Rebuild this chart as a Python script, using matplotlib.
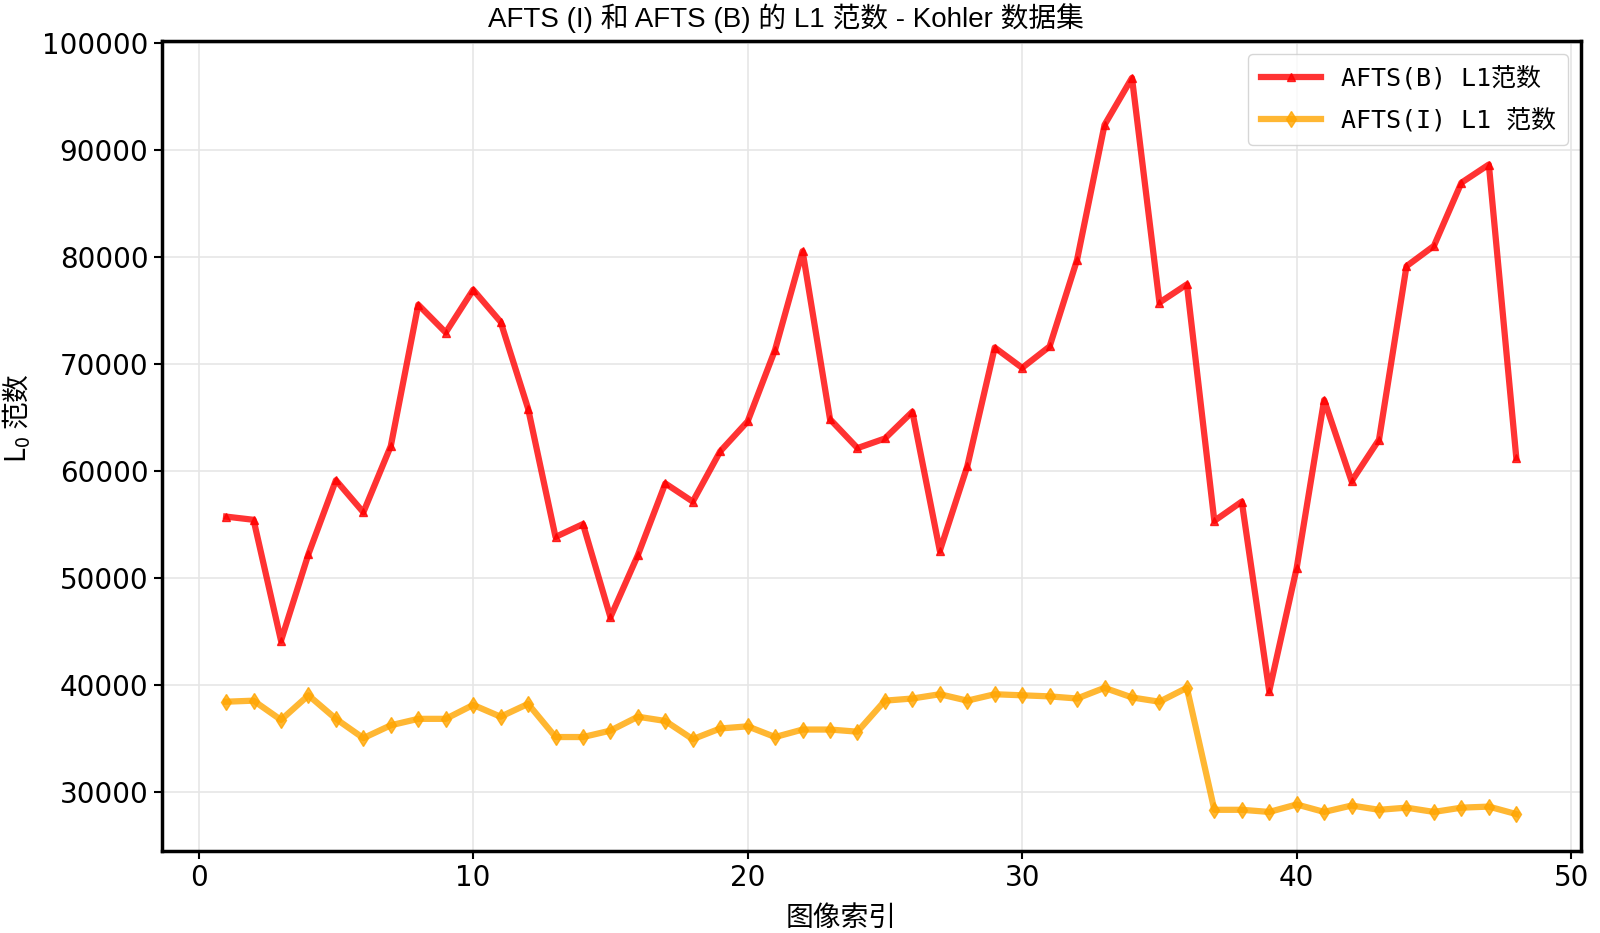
import numpy as np
import matplotlib
matplotlib.use('Agg')
import matplotlib.pyplot as plt

image_idx = list(range(1, 49))

aftsb_l1 = [55.7, 55.4, 44.1, 52.2, 59.1, 56.1, 62.3, 75.5, 72.9, 76.9,
            73.9, 65.8, 53.8, 55.0, 46.3, 52.1, 58.8, 57.1, 61.8, 64.6,
            71.3, 80.5, 64.8, 62.1, 63.0, 65.5, 52.5, 60.4, 71.5, 69.6,
            71.6, 79.7, 92.3, 96.7, 75.7, 77.4, 55.3, 57.1, 39.4, 50.9,
            66.6, 59.0, 62.9, 79.1, 81.0, 86.9, 88.6, 61.2]

aftsi_l1 = [38.4, 38.5, 36.7, 39.0, 36.8, 35.0, 36.2, 36.8, 36.8, 38.1,
            37.0, 38.2, 35.1, 35.1, 35.7, 37.0, 36.6, 34.9, 35.9, 36.1,
            35.1, 35.8, 35.8, 35.6, 38.5, 38.7, 39.1, 38.5, 39.1, 39.0,
            38.9, 38.7, 39.7, 38.8, 38.4, 39.7, 28.3, 28.3, 28.1, 28.8,
            28.1, 28.7, 28.3, 28.5, 28.1, 28.5, 28.6, 27.9]

aftsb_l1 = np.array(aftsb_l1) * 1000
aftsi_l1 = np.array(aftsi_l1) * 1000

cjk = ['Liberation Sans', 'Noto Sans CJK SC']
mono_cjk = ['DejaVu Sans Mono', 'Noto Sans CJK SC']


def main():
    # mathtext in CJK font so that "L$_0$ 范数" renders with the Chinese part
    plt.rcParams['mathtext.fontset'] = 'custom'
    plt.rcParams['mathtext.rm'] = 'Noto Sans CJK SC'
    plt.rcParams['mathtext.it'] = 'Noto Sans CJK SC'

    fig = plt.figure(figsize=(16, 9.33), dpi=100)
    ax = fig.add_axes([0.101, 0.088, 0.887, 0.868])

    ax.plot(image_idx, aftsb_l1, color='red', alpha=0.8, linewidth=4.5,
            marker='^', markersize=6, label='AFTS(B) L1范数')
    ax.plot(image_idx, aftsi_l1, color='orange', alpha=0.8, linewidth=4.5,
            marker='d', markersize=8, label='AFTS(I) L1 范数')

    ax.set_title('AFTS (I) 和 AFTS (B) 的 L1 范数 - Kohler 数据集',
                 family=cjk, fontsize=20, pad=10, x=0.44)
    ax.set_xlabel('图像索引', family=['Noto Sans CJK SC'], fontsize=20,
                  labelpad=8, x=0.479)
    ax.set_ylabel(r'$\mathrm{L_0}$ 范数', family=['Noto Sans CJK SC'], fontsize=20,
                  labelpad=6, y=0.534)

    ax.tick_params(labelsize=20, width=1.5, length=6)
    ax.grid(True, color='#e6e6e6', linewidth=1.2)
    ax.set_axisbelow(True)
    for s in ax.spines.values():
        s.set_linewidth(2.5)

    ax.legend(loc='upper right', prop={'family': mono_cjk, 'size': 18},
              handlelength=2.4, borderpad=0.5, labelspacing=0.7)

    fig.savefig('out.png', dpi=100)
    plt.close(fig)


if __name__ == '__main__':
    main()
